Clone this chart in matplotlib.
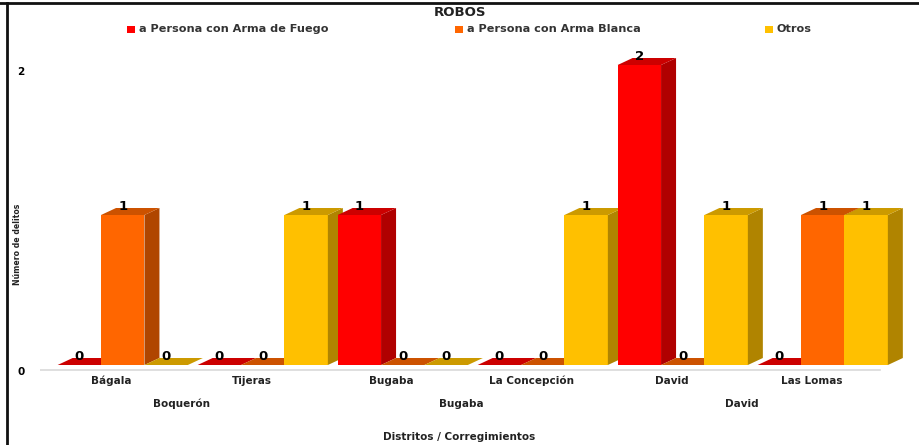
import matplotlib
matplotlib.use("Agg")
import matplotlib.pyplot as plt
from matplotlib.patches import Polygon, Rectangle
from matplotlib.lines import Line2D
import matplotlib.transforms as mtransforms

# ---- data ----
title = "ROBOS"
corregimientos = ["Bágala", "Tijeras", "Bugaba", "La Concepción", "David", "Las Lomas"]
distritos = ["Boquerón", "Bugaba", "David"]
distrito_span = [(0, 1), (2, 3), (4, 5)]
series_names = ["a Persona con Arma de Fuego", "a Persona con Arma Blanca", "Otros"]
arma_fuego = [0, 0, 1, 0, 2, 0]
arma_blanca = [1, 0, 0, 0, 0, 1]
otros = [0, 1, 0, 1, 1, 1]
y_ticks = [0, 2]
y_label = "Número de delitos"
x_label = "Distritos / Corregimientos"

series = [arma_fuego, arma_blanca, otros]
front_cols = ["#FF0000", "#FF6600", "#FFC000"]
side_cols = ["#B00000", "#B04600", "#B08400"]
top_cols = ["#CC0000", "#CC5200", "#CC9A00"]

W, H = 920, 445
fig = plt.figure(figsize=(W / 100, H / 100), dpi=100)
fig.patch.set_facecolor("white")

ax_l, ax_r, ax_t, ax_b = 40, 905, 45, 385  # pixels
ax = fig.add_axes([ax_l / W, 1 - ax_b / H, (ax_r - ax_l) / W, (ax_b - ax_t) / H])

px_x = 140.0   # px per group
px_y = 150.0   # px per unit
x0px = 122.75
y0px = 365.0
ax.set_xlim((ax_l - x0px) / px_x, (ax_r - x0px) / px_x)
ax.set_ylim(-(ax_b - y0px) / px_y, (y0px - ax_t) / px_y)

w = 0.31
dx = 15 / px_x
dy = 7 / px_y

z = 2
for i in range(len(corregimientos)):
    for j, vals in enumerate(series):
        v = vals[i]
        xl = i + (j - 1.5) * w
        xr = xl + w
        if v > 0:
            ax.add_patch(Rectangle((xl, 0), w, v, facecolor=front_cols[j], edgecolor="none", zorder=z))
            ax.add_patch(Polygon([(xr, 0), (xr + dx, dy), (xr + dx, v + dy), (xr, v)],
                                 closed=True, facecolor=side_cols[j], edgecolor="none", zorder=z))
        ax.add_patch(Polygon([(xl, v), (xl + dx, v + dy), (xr + dx, v + dy), (xr, v)],
                             closed=True, facecolor=top_cols[j], edgecolor="none", zorder=z))
        ax.text(xl + w / 2, v + 0.06, str(v), ha="center", va="center",
                fontsize=9.5, fontweight="bold", color="black", zorder=50)
        z += 1

# baseline
ax.plot([(38 - x0px) / px_x, (880 - x0px) / px_x], [-0.03, -0.03], color="#D9D9D9", lw=1.2, zorder=1)

for s in ax.spines.values():
    s.set_visible(False)
ax.set_xticks([])
ax.set_yticks(y_ticks)
ax.set_yticklabels([str(t) for t in y_ticks], fontsize=7.5, fontweight="bold")
ax.tick_params(axis="y", length=0, pad=11)
off = mtransforms.ScaledTranslation(0, -6 / 100, fig.dpi_scale_trans)
for lab in ax.get_yticklabels():
    lab.set_transform(lab.get_transform() + off)

# category labels
trans = mtransforms.blended_transform_factory(ax.transData, fig.transFigure)
for i, name in enumerate(corregimientos):
    ax.text(i - 0.08, 1 - 381 / H, name, transform=trans, ha="center", va="center",
            fontsize=7.5, fontweight="bold", color="#222222")
for name, (a, b) in zip(distritos, distrito_span):
    ax.text((a + b) / 2 - 0.08, 1 - 404 / H, name, transform=trans, ha="center", va="center",
            fontsize=7.5, fontweight="bold", color="#222222")

fig.text(459 / W, 1 - 437 / H, x_label, ha="center", va="center", fontsize=7.5,
         fontweight="bold", color="#222222")
fig.text(18 / W, 1 - 244 / H, y_label, ha="center", va="center", rotation=90,
         fontsize=6.2, fontweight="bold", color="#222222", fontstretch="condensed",
         family=["DejaVu Sans"])

# title
fig.text(460 / W, 1 - 13 / H, title, ha="center", va="center", fontsize=9.5,
         fontweight="bold", color="#222222")

# legend (manual)
leg_sq = [127, 455, 765]
for j, name in enumerate(series_names):
    fig.patches.append(Rectangle((leg_sq[j] / W, 1 - 33 / H), 8 / W, 7 / H,
                                 transform=fig.transFigure, facecolor=front_cols[j],
                                 edgecolor="none"))
    fig.text((leg_sq[j] + 12) / W, 1 - 29.5 / H, name, ha="left", va="center",
             fontsize=8.1, fontweight="bold", color="#333333")

# borders
fig.add_artist(Line2D([0, 1], [1 - 3 / H, 1 - 3 / H], transform=fig.transFigure,
                      color="#111111", lw=2))
fig.add_artist(Line2D([7 / W, 7 / W], [0, 1 - 3 / H], transform=fig.transFigure,
                      color="#111111", lw=2))

fig.savefig("out.png", dpi=100, facecolor="white")
